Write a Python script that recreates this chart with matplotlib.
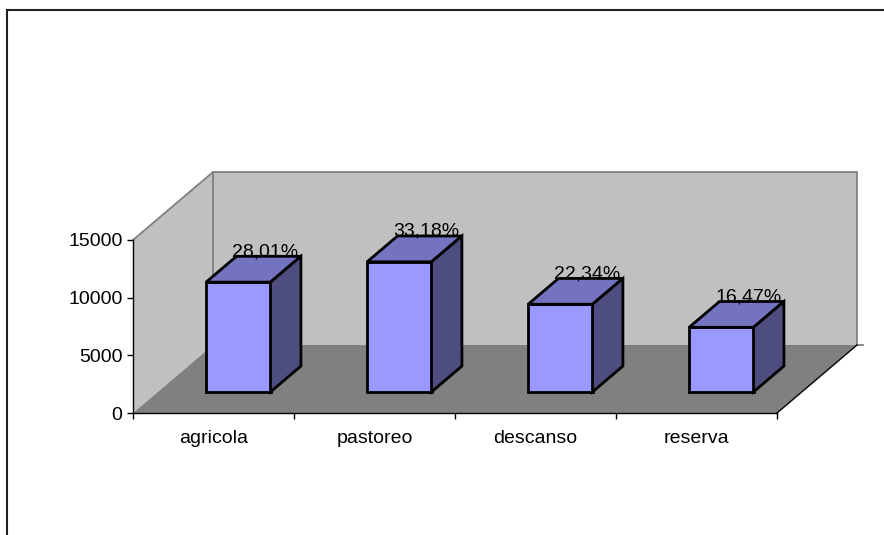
import matplotlib
matplotlib.use("Agg")
import matplotlib.pyplot as plt
from matplotlib.patches import Polygon, Rectangle

plt.rcParams["font.family"] = ["Liberation Sans", "DejaVu Sans"]

# Data
categories = ["agricola", "pastoreo", "descanso", "reserva"]
values = [9520, 11280, 7600, 5600]
pct_labels = ["28,01%", "33,18%", "22,34%", "16,47%"]
y_ticks = [0, 5000, 10000, 15000]

# Colours
wall_color = "#C0C0C0"
floor_color = "#808080"
edge_grey = "#808080"
front_color = "#9999FF"
top_color = "#7373C0"
side_color = "#4D4D80"

# 3D depth offset (in data units) for a full depth of 1
DX = 0.497
DY = 5896
YMAX = 15000


def shift(x, y, d):
    return (x + DX * d, y + DY * d)


fig = plt.figure(figsize=(8.84, 5.35), dpi=100)
W, H = 884, 535
ax = fig.add_axes([133 / W, (H - 413) / H, 644 / W, 173 / H])
ax.set_xlim(0, len(categories))
ax.set_ylim(0, YMAX)
ax.patch.set_visible(False)

# Walls and floor
n = len(categories)
back_wall = Polygon([shift(0, 0, 1), shift(n, 0, 1), shift(n, YMAX, 1), shift(0, YMAX, 1)],
                    closed=True, facecolor=wall_color, edgecolor="none", clip_on=False, zorder=0)
left_wall = Polygon([(0, 0), (0, YMAX), shift(0, YMAX, 1), shift(0, 0, 1)],
                    closed=True, facecolor=wall_color, edgecolor="none", clip_on=False, zorder=0)
floor = Polygon([(0, 0), (n, 0), shift(n, 0, 1), shift(0, 0, 1)],
                closed=True, facecolor=floor_color, edgecolor="none", clip_on=False, zorder=0.5)
for p in (back_wall, left_wall, floor):
    ax.add_patch(p)

# Wall edges
lw_edge = 1.3
bx0, by0 = shift(0, 0, 1)
bx1, by1 = shift(0, YMAX, 1)
bx2, by2 = shift(n, YMAX, 1)
bx3, by3 = shift(n, 0, 1)
ax.plot([0, bx1], [YMAX, by1], color=edge_grey, lw=lw_edge, clip_on=False, zorder=1)
ax.plot([bx0, bx1, bx2, bx3], [by0, by1, by2, by3], color=edge_grey, lw=lw_edge, clip_on=False, zorder=1)
ax.plot([bx3, bx3 + 0.04], [by3, by3], color=edge_grey, lw=lw_edge, clip_on=False, zorder=1)
ax.plot([n, bx3], [0, by3], color="black", lw=1.0, clip_on=False, zorder=1)

# Bars
d0, d1 = 0.31, 0.69
for i, (v, lab) in enumerate(zip(values, pct_labels)):
    x0, x1 = i + 0.3, i + 0.7
    front = [shift(x0, 0, d0), shift(x1, 0, d0), shift(x1, v, d0), shift(x0, v, d0)]
    top = [shift(x0, v, d0), shift(x1, v, d0), shift(x1, v, d1), shift(x0, v, d1)]
    side = [shift(x1, 0, d0), shift(x1, 0, d1), shift(x1, v, d1), shift(x1, v, d0)]
    for pts, c in ((front, front_color), (top, top_color), (side, side_color)):
        ax.add_patch(Polygon(pts, closed=True, facecolor=c, edgecolor="black",
                             lw=2.0, joinstyle="miter", clip_on=False, zorder=3))
    lx, ly = shift(i + 0.48, v, d1)
    ax.text(lx, ly, lab, ha="center", va="baseline", fontsize=14, color="black",
            zorder=4, clip_on=False)

# Axes styling
for s in ("top", "right"):
    ax.spines[s].set_visible(False)
ax.spines["left"].set_linewidth(1.0)
ax.spines["bottom"].set_linewidth(1.0)
ax.spines["left"].set_zorder(2)
ax.spines["bottom"].set_zorder(2)

ax.set_yticks(y_ticks)
ax.set_yticklabels([str(t) for t in y_ticks])
ax.tick_params(axis="y", direction="out", length=4, width=1, pad=3.5, labelsize=14)

ax.set_xticks(range(n + 1))
ax.set_xticklabels([""] * (n + 1))
ax.set_xticks([i + 0.5 for i in range(n)], minor=True)
ax.set_xticklabels(categories, minor=True)
ax.tick_params(axis="x", which="major", direction="out", length=4, width=1)
ax.tick_params(axis="x", which="minor", length=0, pad=12, labelsize=14)

# Outer chart border
fig.add_artist(Rectangle((7 / W, -0.05), 1.1, (H - 9.5) / H + 0.05,
                         transform=fig.transFigure, fill=False,
                         edgecolor="#202020", lw=1.5))

fig.savefig("out.png", dpi=100)
